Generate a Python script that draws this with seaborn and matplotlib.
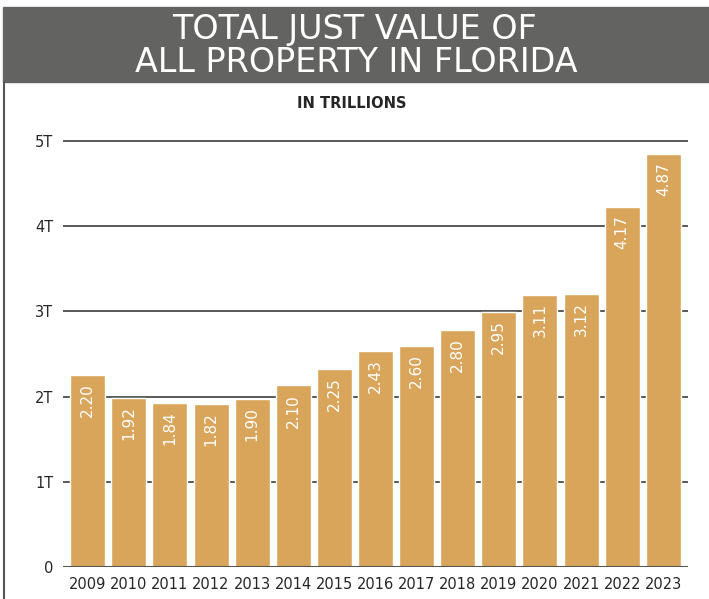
import pandas as pd
import seaborn as sns
import matplotlib.pyplot as plt
from matplotlib.patches import Rectangle
from matplotlib.lines import Line2D

# data
years = ['2009', '2010', '2011', '2012', '2013', '2014', '2015', '2016',
         '2017', '2018', '2019', '2020', '2021', '2022', '2023']
bar_heights = [2.25, 1.98, 1.93, 1.91, 1.97, 2.13, 2.32, 2.54,
               2.59, 2.78, 2.99, 3.19, 3.20, 4.22, 4.85]
bar_labels = ['2.20', '1.92', '1.84', '1.82', '1.90', '2.10', '2.25', '2.43',
              '2.60', '2.80', '2.95', '3.11', '3.12', '4.17', '4.87']
ytick_vals = [0, 1, 2, 3, 4, 5]
ytick_labels = ['0', '1T', '2T', '3T', '4T', '5T']

bar_color = '#D9A55B'
banner_color = '#636462'
text_color = '#262626'

sns.set_theme(style="white")
plt.rcParams['font.family'] = ['DejaVu Sans']

W, H = 709, 599
fig = plt.figure(figsize=(W / 100, H / 100), dpi=100)
ax = fig.add_axes([63 / W, 32 / H, 625 / W, 427 / H])

df = pd.DataFrame({'year': years, 'value': bar_heights})
sns.barplot(data=df, x='year', y='value', color=bar_color, saturation=1,
            width=0.85, ax=ax, zorder=3)

ax.set_xlim(-0.6, len(years) - 0.4)
ax.set_ylim(0, 5.01)
ax.set_yticks(ytick_vals)
ax.set_yticklabels(ytick_labels)
ax.set_xlabel('')
ax.set_ylabel('')
ax.yaxis.grid(True, color='#2b2b2b', linewidth=1.1)
ax.set_axisbelow(True)
for s in ax.spines.values():
    s.set_visible(False)
ax.axhline(0, color='#555555', linewidth=1.5, zorder=4)
ax.tick_params(length=0, pad=7, labelsize=10.5, labelcolor=text_color)

# value labels inside the bars
for patch, lab in zip(ax.patches, bar_labels):
    ax.annotate(lab, (patch.get_x() + patch.get_width() / 2, patch.get_height()),
                xytext=(0, -6), textcoords='offset points', rotation=90,
                ha='center', va='top', color='white', fontsize=11, zorder=5)

# title banner
fig.patches.append(Rectangle((3 / W, 1 - 82 / H), 1, 75 / H,
                             transform=fig.transFigure, color=banner_color,
                             zorder=0))
fig.text(355 / W, 1 - 29 / H, 'TOTAL JUST VALUE OF', ha='center', va='center',
         fontsize=24, color='white')
fig.text(356 / W, 1 - 62 / H, 'ALL PROPERTY IN FLORIDA', ha='center',
         va='center', fontsize=24, color='white')
fig.text(352 / W, 1 - 103 / H, 'IN TRILLIONS', ha='center', va='center',
         fontsize=10.5, fontweight='bold', color=text_color)
fig.lines.append(Line2D([4 / W, 4 / W], [0, 1 - 82 / H],
                        transform=fig.transFigure, color='#555555',
                        linewidth=1.5))

fig.savefig('out.png', dpi=100)
